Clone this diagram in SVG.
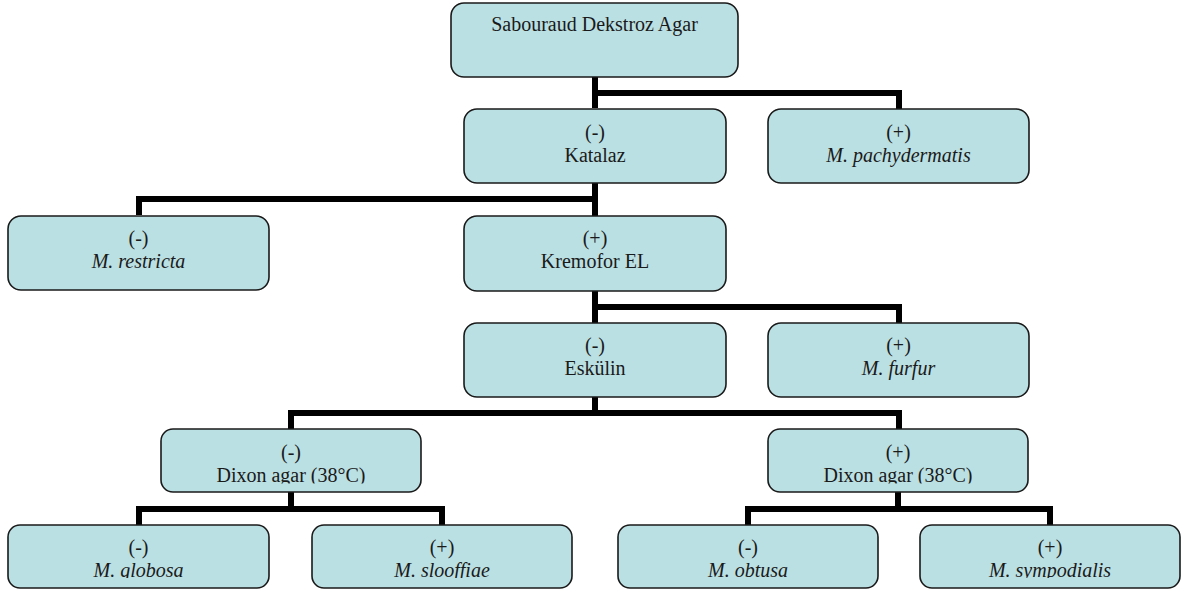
<svg xmlns="http://www.w3.org/2000/svg" width="1186" height="593" viewBox="0 0 1186 593">
<style>
.box{fill:#bbe0e3;stroke:#1a1a1a;stroke-width:1.6}
.t{font-family:"Liberation Serif","Times New Roman",Times,serif;font-size:20px;fill:#1a1a1a;text-anchor:middle}
.i{font-style:italic}
.con{fill:none;stroke:#000;stroke-width:6;stroke-linejoin:miter;stroke-linecap:butt}
</style>
<defs>
<clipPath id="c1"><rect x="150" y="420" width="290" height="63.5"/></clipPath>
<clipPath id="c2"><rect x="760" y="420" width="290" height="63.5"/></clipPath>
<clipPath id="c3"><rect x="0" y="515" width="1186" height="63"/></clipPath>
</defs>
<rect width="1186" height="593" fill="#fff"/>
<g id="connectors" class="con">
<path d="M595 77V108M595 93H899V109"/>
<path d="M595 183V216M595 199H139V215"/>
<path d="M595 291V323M595 307H899V323"/>
<path d="M595 397V413M291 429V413H899V429"/>
<path d="M291 492V509M139 525V509H442V525"/>
<path d="M898 492V509M748 525V509H1050V525"/>
</g>
<g id="n-sda"><rect class="box" x="451" y="3" width="287" height="74" rx="13"/><text class="t" x="594.5" y="31">Sabouraud Dekstroz Agar</text></g>
<g id="n-katalaz"><rect class="box" x="464" y="109" width="262" height="74" rx="13"/><text class="t" x="595" y="138.5">(-)</text><text class="t" x="595" y="161.5">Katalaz</text></g>
<g id="n-pachy"><rect class="box" x="768" y="109" width="261" height="74" rx="13"/><text class="t" x="898.5" y="138.5">(+)</text><text class="t i" x="898.5" y="161.5">M. pachydermatis</text></g>
<g id="n-restricta"><rect class="box" x="8" y="216" width="261" height="74" rx="13"/><text class="t" x="138.5" y="245">(-)</text><text class="t i" x="138.5" y="268">M. restricta</text></g>
<g id="n-kremofor"><rect class="box" x="464" y="216" width="262" height="75" rx="13"/><text class="t" x="595" y="245">(+)</text><text class="t" x="595" y="268">Kremofor EL</text></g>
<g id="n-eskulin"><rect class="box" x="464" y="323" width="262" height="74" rx="13"/><text class="t" x="595" y="352">(-)</text><text class="t" x="595" y="375">Eskülin</text></g>
<g id="n-furfur"><rect class="box" x="768" y="323" width="261" height="74" rx="13"/><text class="t" x="898.5" y="352">(+)</text><text class="t i" x="898.5" y="375">M. furfur</text></g>
<g id="n-dixon-neg"><rect class="box" x="161" y="429" width="260" height="63" rx="12"/><g clip-path="url(#c1)"><text class="t" x="291" y="459">(-)</text><text class="t" x="291" y="482">Dixon agar (38°C)</text></g></g>
<g id="n-dixon-pos"><rect class="box" x="768" y="429" width="260" height="63" rx="12"/><g clip-path="url(#c2)"><text class="t" x="898" y="459">(+)</text><text class="t" x="898" y="482">Dixon agar (38°C)</text></g></g>
<g id="n-globosa"><rect class="box" x="8" y="525" width="261" height="63" rx="12"/><g clip-path="url(#c3)"><text class="t" x="138.5" y="554">(-)</text><text class="t i" x="138.5" y="577">M. globosa</text></g></g>
<g id="n-slooffiae"><rect class="box" x="312" y="525" width="260" height="63" rx="12"/><g clip-path="url(#c3)"><text class="t" x="442" y="554">(+)</text><text class="t i" x="442" y="577">M. slooffiae</text></g></g>
<g id="n-obtusa"><rect class="box" x="618" y="525" width="260" height="63" rx="12"/><g clip-path="url(#c3)"><text class="t" x="748" y="554">(-)</text><text class="t i" x="748" y="577">M. obtusa</text></g></g>
<g id="n-sympodialis"><rect class="box" x="920" y="525" width="260" height="63" rx="12"/><g clip-path="url(#c3)"><text class="t" x="1050" y="554">(+)</text><text class="t i" x="1050" y="577">M. sympodialis</text></g></g>
</svg>
